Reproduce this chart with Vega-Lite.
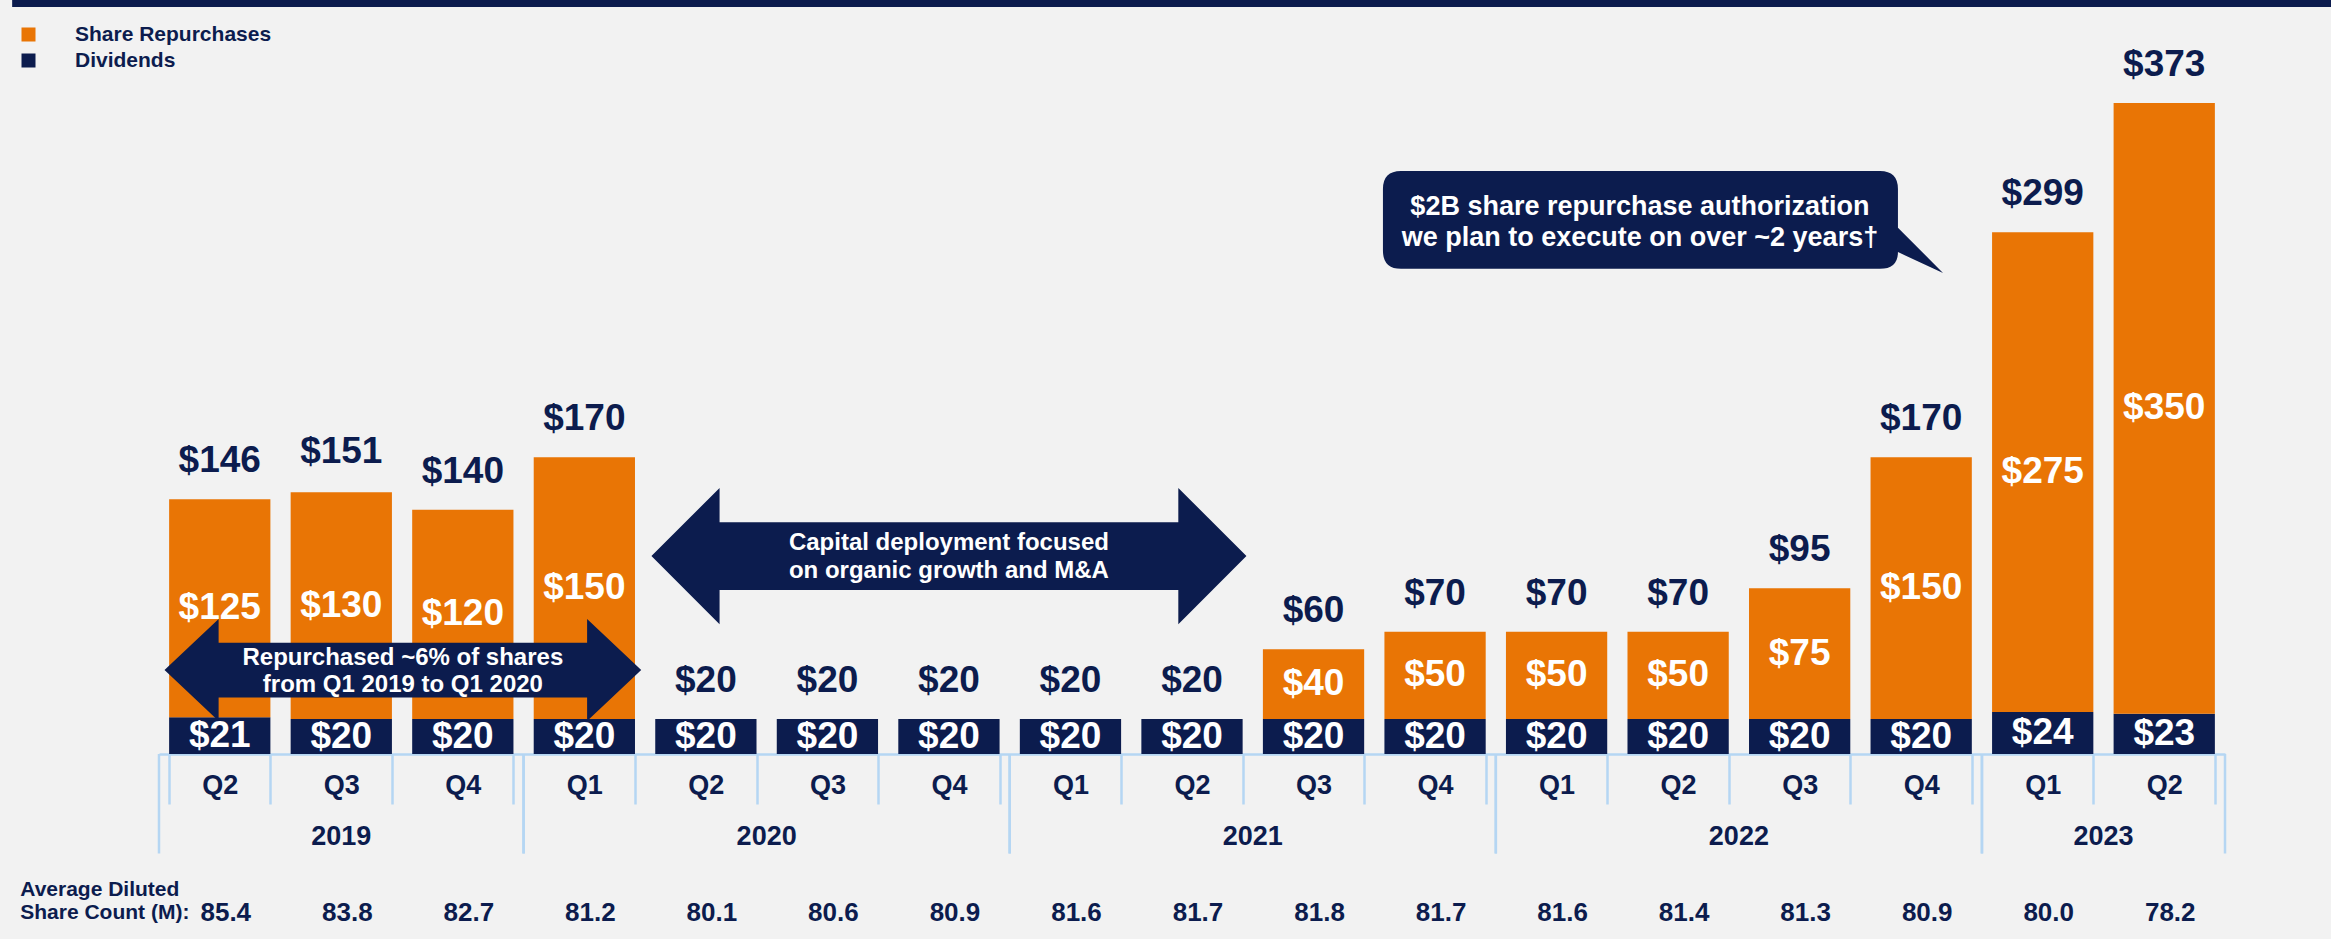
{
  "$schema": "https://vega.github.io/schema/vega-lite/v6.json",
  "width": 2066,
  "height": 754,
  "autosize": {"type": "none"},
  "padding": {"left": 159, "top": 0, "right": 106, "bottom": 185},
  "background": "#f2f2f2",
  "config": {
    "view": {"stroke": null},
    "font": "Liberation Sans",
    "text": {"font": "Liberation Sans", "fontWeight": "bold"}
  },
  "datasets": {
    "quarters": [
      {"q": "2019 Q2", "total": 146, "shares": 85.4},
      {"q": "2019 Q3", "total": 151, "shares": 83.8},
      {"q": "2019 Q4", "total": 140, "shares": 82.7},
      {"q": "2020 Q1", "total": 170, "shares": 81.2},
      {"q": "2020 Q2", "total": 20, "shares": 80.1},
      {"q": "2020 Q3", "total": 20, "shares": 80.6},
      {"q": "2020 Q4", "total": 20, "shares": 80.9},
      {"q": "2021 Q1", "total": 20, "shares": 81.6},
      {"q": "2021 Q2", "total": 20, "shares": 81.7},
      {"q": "2021 Q3", "total": 60, "shares": 81.8},
      {"q": "2021 Q4", "total": 70, "shares": 81.7},
      {"q": "2022 Q1", "total": 70, "shares": 81.6},
      {"q": "2022 Q2", "total": 70, "shares": 81.4},
      {"q": "2022 Q3", "total": 95, "shares": 81.3},
      {"q": "2022 Q4", "total": 170, "shares": 80.9},
      {"q": "2023 Q1", "total": 299, "shares": 80.0},
      {"q": "2023 Q2", "total": 373, "shares": 78.2}
    ],
    "segments": [
      {"q": "2019 Q2", "type": "Dividends", "value": 21},
      {"q": "2019 Q3", "type": "Dividends", "value": 20},
      {"q": "2019 Q4", "type": "Dividends", "value": 20},
      {"q": "2020 Q1", "type": "Dividends", "value": 20},
      {"q": "2020 Q2", "type": "Dividends", "value": 20},
      {"q": "2020 Q3", "type": "Dividends", "value": 20},
      {"q": "2020 Q4", "type": "Dividends", "value": 20},
      {"q": "2021 Q1", "type": "Dividends", "value": 20},
      {"q": "2021 Q2", "type": "Dividends", "value": 20},
      {"q": "2021 Q3", "type": "Dividends", "value": 20},
      {"q": "2021 Q4", "type": "Dividends", "value": 20},
      {"q": "2022 Q1", "type": "Dividends", "value": 20},
      {"q": "2022 Q2", "type": "Dividends", "value": 20},
      {"q": "2022 Q3", "type": "Dividends", "value": 20},
      {"q": "2022 Q4", "type": "Dividends", "value": 20},
      {"q": "2023 Q1", "type": "Dividends", "value": 24},
      {"q": "2023 Q2", "type": "Dividends", "value": 23},
      {"q": "2019 Q2", "type": "Share Repurchases", "value": 125},
      {"q": "2019 Q3", "type": "Share Repurchases", "value": 130},
      {"q": "2019 Q4", "type": "Share Repurchases", "value": 120},
      {"q": "2020 Q1", "type": "Share Repurchases", "value": 150},
      {"q": "2021 Q3", "type": "Share Repurchases", "value": 40},
      {"q": "2021 Q4", "type": "Share Repurchases", "value": 50},
      {"q": "2022 Q1", "type": "Share Repurchases", "value": 50},
      {"q": "2022 Q2", "type": "Share Repurchases", "value": 50},
      {"q": "2022 Q3", "type": "Share Repurchases", "value": 75},
      {"q": "2022 Q4", "type": "Share Repurchases", "value": 150},
      {"q": "2023 Q1", "type": "Share Repurchases", "value": 275},
      {"q": "2023 Q2", "type": "Share Repurchases", "value": 350}
    ],
    "years": [
      {"year": "2019", "first": "2019 Q2", "middle": "2019 Q3", "last": "2019 Q4", "quarters": 3},
      {"year": "2020", "first": "2020 Q1", "middle": "2020 Q2", "last": "2020 Q4", "quarters": 4},
      {"year": "2021", "first": "2021 Q1", "middle": "2021 Q2", "last": "2021 Q4", "quarters": 4},
      {"year": "2022", "first": "2022 Q1", "middle": "2022 Q2", "last": "2022 Q4", "quarters": 4},
      {"year": "2023", "first": "2023 Q1", "middle": "2023 Q1", "last": "2023 Q2", "quarters": 2}
    ],
    "notes": [
      {"note": "capital", "at": "2020 Q4", "to": "2020 Q4", "lines": ["Capital deployment focused", "on organic growth and M&A"]},
      {"note": "repurchased", "at": "2019 Q3", "to": "2019 Q3", "lines": ["Repurchased ~6% of shares", "from Q1 2019 to Q1 2020"]},
      {"note": "authorization", "at": "2022 Q2", "to": "2022 Q2", "lines": ["$2B share repurchase authorization", "we plan to execute on over ~2 years†"]},
      {"note": "sharecount", "at": "2019 Q2", "to": "2019 Q2", "lines": ["Average Diluted", "Share Count (M):"]},
      {"note": "topbar", "at": "2019 Q2", "to": "2023 Q2", "lines": []}
    ]
  },
  "layer": [
    {
      "data": {"name": "segments"},
      "mark": {"type": "bar"},
      "encoding": {
        "x": {
          "field": "q",
          "type": "nominal",
          "scale": {
            "type": "band",
            "domain": ["2019 Q2","2019 Q3","2019 Q4","2020 Q1","2020 Q2","2020 Q3","2020 Q4","2021 Q1","2021 Q2","2021 Q3","2021 Q4","2022 Q1","2022 Q2","2022 Q3","2022 Q4","2023 Q1","2023 Q2"],
            "paddingInner": 0.1667,
            "paddingOuter": 0.0833
          },
          "axis": {
            "title": null,
            "labelExpr": "split(datum.value, ' ')[1]",
            "labelAngle": 0,
            "labelFontSize": 27,
            "labelFontWeight": "bold",
            "labelColor": "#0c1c4e",
            "labelBaseline": "middle",
            "labelPadding": -19,
            "domainColor": "#b5d6f3",
            "domainWidth": 2.5,
            "tickColor": "#b5d6f3",
            "tickWidth": 2.5,
            "tickSize": 50,
            "tickBand": "extent",
            "grid": false
          }
        },
        "y": {
          "field": "value",
          "type": "quantitative",
          "stack": "zero",
          "scale": {"domain": [0, 432], "nice": false, "zero": true},
          "axis": null
        },
        "color": {
          "field": "type",
          "type": "nominal",
          "scale": {"domain": ["Share Repurchases", "Dividends"], "range": ["#e97505", "#0c1c4e"]},
          "legend": {
            "title": null,
            "orient": "none",
            "legendX": -141,
            "legendY": 24,
            "symbolType": "square",
            "symbolSize": 196,
            "symbolStrokeWidth": 0,
            "labelFontSize": 21,
            "labelFontWeight": "bold",
            "labelColor": "#0c1c4e",
            "labelOffset": 36,
            "labelLimit": 500,
            "rowPadding": 4,
            "padding": 0
          }
        },
        "order": {"field": "type", "type": "nominal", "sort": "ascending"}
      }
    },
    {
      "data": {"name": "segments"},
      "mark": {"type": "text", "color": "#ffffff", "fontSize": 37, "baseline": "middle", "align": "center"},
      "encoding": {
        "x": {"field": "q", "type": "nominal"},
        "y": {"field": "value", "type": "quantitative", "stack": "zero", "bandPosition": 0.5},
        "detail": {"field": "type", "type": "nominal"},
        "order": {"field": "type", "type": "nominal", "sort": "ascending"},
        "text": {"field": "value", "type": "quantitative", "format": "$d"}
      }
    },
    {
      "data": {"name": "quarters"},
      "mark": {"type": "text", "color": "#0c1c4e", "fontSize": 37, "baseline": "alphabetic", "align": "center", "dy": -27},
      "encoding": {
        "x": {"field": "q", "type": "nominal"},
        "y": {"field": "total", "type": "quantitative"},
        "text": {"field": "total", "type": "quantitative", "format": "$d"}
      }
    },
    {
      "data": {"name": "notes"},
      "transform": [{"filter": "datum.note == 'topbar'"}],
      "mark": {"type": "rule", "color": "#0c1c4e", "strokeWidth": 7},
      "encoding": {
        "x": {"field": "at", "type": "nominal", "bandPosition": -1.55},
        "x2": {"field": "to", "bandPosition": 2.15},
        "y": {"datum": 430, "type": "quantitative"}
      }
    },
    {
      "data": {"name": "notes"},
      "transform": [{"filter": "datum.note == 'capital'"}],
      "mark": {
        "type": "point",
        "shape": "M-1,0 L-0.771,-0.229 L-0.771,-0.114 L0.771,-0.114 L0.771,-0.229 L1,0 L0.771,0.229 L0.771,0.114 L-0.771,0.114 L-0.771,0.229 Z",
        "size": 354025,
        "filled": true,
        "color": "#0c1c4e",
        "opacity": 1,
        "strokeWidth": 0
      },
      "encoding": {
        "x": {"field": "at", "type": "nominal", "bandPosition": 0.5},
        "y": {"datum": 113.4, "type": "quantitative"}
      }
    },
    {
      "data": {"name": "notes"},
      "transform": [{"filter": "datum.note == 'capital'"}],
      "mark": {"type": "text", "color": "#ffffff", "fontSize": 24, "lineHeight": 28, "baseline": "middle", "align": "center"},
      "encoding": {
        "x": {"field": "at", "type": "nominal", "bandPosition": 0.5},
        "y": {"datum": 120.9, "type": "quantitative"},
        "text": {"field": "lines", "type": "nominal"}
      }
    },
    {
      "data": {"name": "notes"},
      "transform": [{"filter": "datum.note == 'repurchased'"}],
      "mark": {
        "type": "point",
        "shape": "M-1,0 L-0.773,-0.214 L-0.773,-0.115 L0.773,-0.115 L0.773,-0.214 L1,0 L0.773,0.214 L0.773,0.115 L-0.773,0.115 L-0.773,0.214 Z",
        "size": 227243,
        "filled": true,
        "color": "#0c1c4e",
        "opacity": 1,
        "strokeWidth": 0
      },
      "encoding": {
        "x": {"field": "at", "type": "nominal", "bandPosition": 1.108},
        "y": {"datum": 48.1, "type": "quantitative"}
      }
    },
    {
      "data": {"name": "notes"},
      "transform": [{"filter": "datum.note == 'repurchased'"}],
      "mark": {"type": "text", "color": "#ffffff", "fontSize": 24, "lineHeight": 27, "baseline": "middle", "align": "center"},
      "encoding": {
        "x": {"field": "at", "type": "nominal", "bandPosition": 1.108},
        "y": {"datum": 55.0, "type": "quantitative"},
        "text": {"field": "lines", "type": "nominal"}
      }
    },
    {
      "data": {"name": "notes"},
      "transform": [{"filter": "datum.note == 'authorization'"}],
      "mark": {
        "type": "point",
        "shape": "M-0.93,-0.19 L0.93,-0.19 Q1,-0.19 1,-0.12 L1,0.03 L1.175,0.206 L1,0.125 Q1,0.19 0.93,0.19 L-0.93,0.19 Q-1,0.19 -1,0.12 L-1,-0.12 Q-1,-0.19 -0.93,-0.19 Z",
        "size": 265225,
        "filled": true,
        "color": "#0c1c4e",
        "opacity": 1,
        "strokeWidth": 0
      },
      "encoding": {
        "x": {"field": "at", "type": "nominal", "bandPosition": 0.128},
        "y": {"datum": 306, "type": "quantitative"}
      }
    },
    {
      "data": {"name": "notes"},
      "transform": [{"filter": "datum.note == 'authorization'"}],
      "mark": {"type": "text", "color": "#ffffff", "fontSize": 27, "lineHeight": 31, "baseline": "middle", "align": "center"},
      "encoding": {
        "x": {"field": "at", "type": "nominal", "bandPosition": 0.123},
        "y": {"datum": 313.4, "type": "quantitative"},
        "text": {"field": "lines", "type": "nominal"}
      }
    },
    {
      "data": {"name": "years"},
      "mark": {"type": "rule", "color": "#b5d6f3", "strokeWidth": 2.5},
      "encoding": {
        "x": {"field": "first", "type": "nominal", "bandPosition": -0.1},
        "y": {"datum": 0, "type": "quantitative"},
        "y2": {"datum": -57}
      }
    },
    {
      "data": {"name": "years"},
      "mark": {"type": "rule", "color": "#b5d6f3", "strokeWidth": 2.5},
      "encoding": {
        "x": {"field": "last", "type": "nominal", "bandPosition": 1.1},
        "y": {"datum": 0, "type": "quantitative"},
        "y2": {"datum": -57}
      }
    },
    {
      "data": {"name": "years"},
      "transform": [{"filter": "datum.quarters == 3"}],
      "mark": {"type": "text", "color": "#0c1c4e", "fontSize": 27, "baseline": "middle", "align": "center"},
      "encoding": {
        "x": {"field": "middle", "type": "nominal", "bandPosition": 0.5},
        "y": {"datum": -47.6, "type": "quantitative"},
        "text": {"field": "year", "type": "nominal"}
      }
    },
    {
      "data": {"name": "years"},
      "transform": [{"filter": "datum.quarters != 3"}],
      "mark": {"type": "text", "color": "#0c1c4e", "fontSize": 27, "baseline": "middle", "align": "center"},
      "encoding": {
        "x": {"field": "middle", "type": "nominal", "bandPosition": 1.1},
        "y": {"datum": -47.6, "type": "quantitative"},
        "text": {"field": "year", "type": "nominal"}
      }
    },
    {
      "data": {"name": "quarters"},
      "mark": {"type": "text", "color": "#0c1c4e", "fontSize": 26, "baseline": "middle", "align": "center", "dx": 6},
      "encoding": {
        "x": {"field": "q", "type": "nominal"},
        "y": {"datum": -91.1, "type": "quantitative"},
        "text": {"field": "shares", "type": "quantitative", "format": ".1f"}
      }
    },
    {
      "data": {"name": "notes"},
      "transform": [{"filter": "datum.note == 'sharecount'"}],
      "mark": {"type": "text", "color": "#0c1c4e", "fontSize": 21, "lineHeight": 23, "baseline": "middle", "align": "left"},
      "encoding": {
        "x": {"field": "at", "type": "nominal", "bandPosition": -1.47},
        "y": {"datum": -77.9, "type": "quantitative"},
        "text": {"field": "lines", "type": "nominal"}
      }
    }
  ]
}
